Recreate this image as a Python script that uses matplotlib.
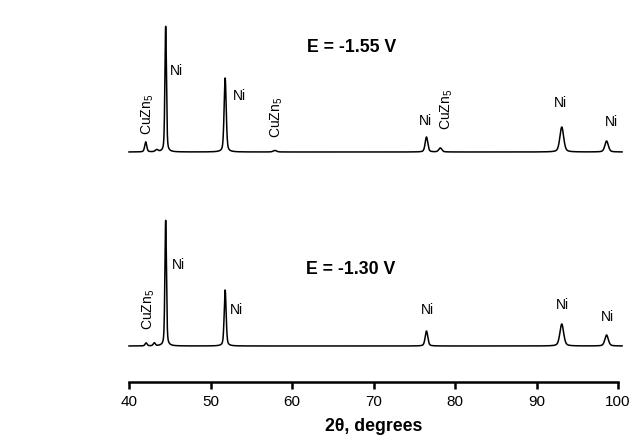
import numpy as np
import matplotlib.pyplot as plt

plt.rcParams['font.family'] = ['Liberation Sans', 'DejaVu Sans']
plt.rcParams['mathtext.fontset'] = 'custom'
plt.rcParams['mathtext.rm'] = 'Liberation Sans'
plt.rcParams['mathtext.it'] = 'Liberation Sans:italic'

# peak lists (2theta, height in a.u., fwhm)
top_pos = [42.05, 43.4, 44.5, 51.8, 57.9, 76.5, 78.2, 93.1, 98.6]
top_h = [10, 2, 126, 74, 1.5, 15, 4, 25, 11]
top_w = [0.3, 0.4, 0.22, 0.3, 0.5, 0.38, 0.45, 0.55, 0.5]
top_base = 230

bot_pos = [42.1, 43.1, 44.5, 51.8, 76.5, 93.1, 98.6]
bot_h = [3, 3, 126, 56, 15, 22, 11]
bot_w = [0.3, 0.3, 0.22, 0.28, 0.38, 0.55, 0.5]
bot_base = 36

# labels: text, x, y, rotated?
top_labels = [("CuZn$_5$", 42.33, 247, True), ("Ni", 45.03, 311, False),
              ("Ni", 52.72, 286, False), ("CuZn$_5$", 58.12, 244, True),
              ("Ni", 76.32, 261, False), ("CuZn$_5$", 79.02, 252, True),
              ("Ni", 92.88, 279, False), ("Ni", 99.14, 260, False)]
bot_labels = [("CuZn$_5$", 42.45, 52, True), ("Ni", 45.28, 117, False),
              ("Ni", 52.39, 72, False), ("Ni", 76.65, 72, False),
              ("Ni", 93.2, 77, False), ("Ni", 98.7, 65, False)]
left_ni = [45.03, 52.72, 45.28, 52.39]


def profile(x, pos, h, w):
    y = np.zeros_like(x)
    for p, a, f in zip(pos, h, w):
        g = np.exp(-4 * np.log(2) * ((x - p) / f) ** 2)
        l = 1 / (1 + 4 * ((x - p) / f) ** 2)
        y += a * (0.6 * g + 0.4 * l)
    return y


x = np.linspace(40.0, 100.5, 4000)

fig = plt.figure(figsize=(6.36, 4.4), dpi=100)
ax = fig.add_axes([129 / 636, 1 - 382 / 440, (618 - 129) / 636, 382 / 440])

ax.plot(x, top_base + profile(x, top_pos, top_h, top_w), color='k', lw=1.1, clip_on=False)
ax.plot(x, bot_base + profile(x, bot_pos, bot_h, bot_w), color='k', lw=1.1, clip_on=False)

for txt, lx, ly, rot in top_labels + bot_labels:
    if rot:
        ax.text(lx, ly, txt, rotation=90, ha='center', va='bottom', fontsize=10)
    elif lx in left_ni:
        ax.text(lx, ly, txt, ha='left', va='center', fontsize=10)
    else:
        ax.text(lx, ly, txt, ha='center', va='center', fontsize=10)

ax.text(67.36, 334, "E = -1.55 V", ha='center', va='center', fontsize=12.8, fontweight='bold')
ax.text(67.24, 113, "E = -1.30 V", ha='center', va='center', fontsize=12.8, fontweight='bold')

ax.set_xlim(40, 100)
ax.set_ylim(0, 382)
ax.set_xticks([40, 50, 60, 70, 80, 90, 100])
ax.set_yticks([])
for s in ['left', 'right', 'top']:
    ax.spines[s].set_visible(False)
ax.spines['bottom'].set_linewidth(1.8)
ax.tick_params(axis='x', direction='out', length=5, width=1.8, labelsize=11, pad=4)
ax.set_xlabel("2θ, degrees", fontsize=12.7, fontweight='bold', labelpad=7)
ax.patch.set_visible(False)

fig.savefig('out.png', dpi=100)
